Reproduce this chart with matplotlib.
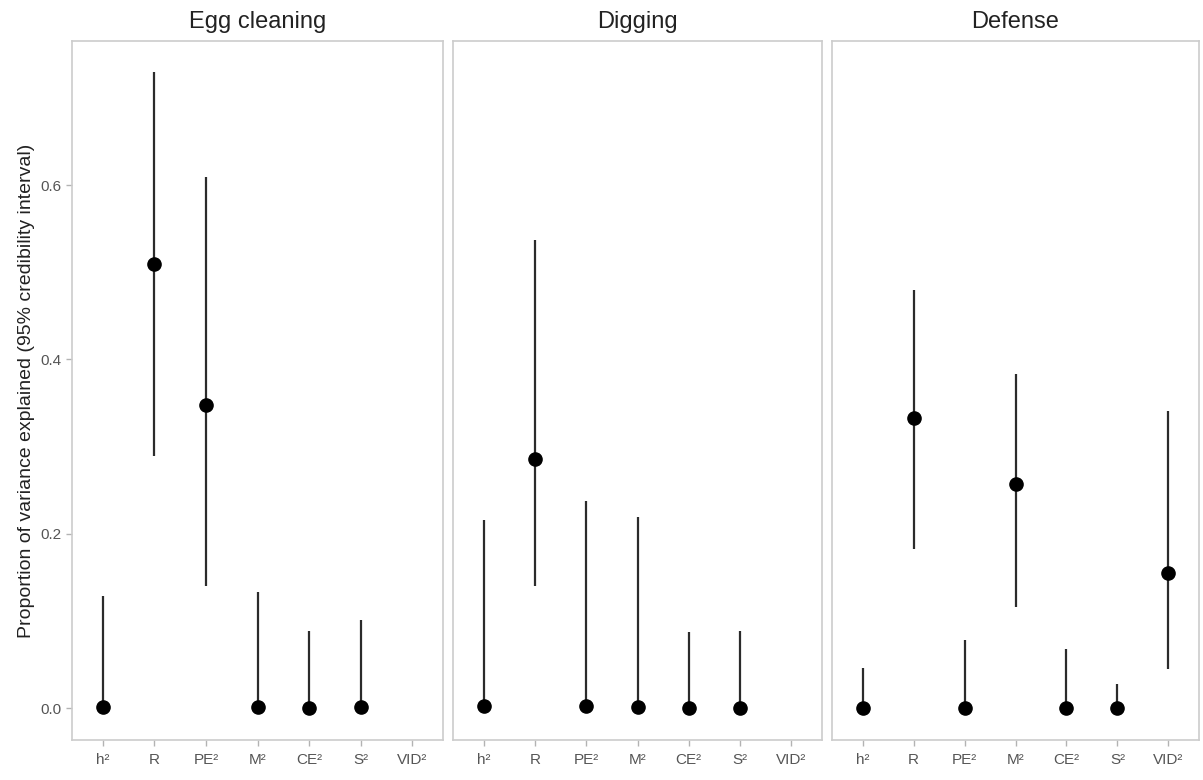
import matplotlib
matplotlib.use("Agg")
import matplotlib.pyplot as plt
import numpy as np

plt.rcParams['font.family'] = ['Liberation Sans', 'DejaVu Sans']

# components on the x axis
components = ['h²', 'R', 'PE²', 'M²', 'CE²', 'S²', 'VID²']
behaviours = ['Egg cleaning', 'Digging', 'Defense']

# posterior mode and 95% credibility interval, per behaviour (nan = not estimated)
egg_mid = [0.001, 0.510, 0.348, 0.001, 0.000, 0.001, np.nan]
egg_lo = [0.000, 0.289, 0.140, 0.000, 0.000, 0.000, np.nan]
egg_hi = [0.128, 0.730, 0.609, 0.133, 0.088, 0.101, np.nan]

dig_mid = [0.002, 0.286, 0.002, 0.001, 0.000, 0.000, np.nan]
dig_lo = [0.000, 0.140, 0.000, 0.000, 0.000, 0.000, np.nan]
dig_hi = [0.216, 0.537, 0.237, 0.219, 0.087, 0.088, np.nan]

def_mid = [0.000, 0.333, 0.000, 0.257, 0.000, 0.000, 0.155]
def_lo = [0.000, 0.182, 0.000, 0.116, 0.000, 0.000, 0.045]
def_hi = [0.046, 0.480, 0.078, 0.383, 0.068, 0.027, 0.341]

series = [(egg_mid, egg_lo, egg_hi), (dig_mid, dig_lo, dig_hi), (def_mid, def_lo, def_hi)]

W, H = 1203, 780
fig = plt.figure(figsize=(W / 100, H / 100), dpi=100)

# panel pixel extents (left, right), top and bottom
panels_x = [(72, 443), (453, 822), (832, 1199)]
top, bottom = 41, 740
zero_y = 708
px_per_unit = 871.5
ylim = (-(bottom - zero_y) / px_per_unit, (zero_y - top) / px_per_unit)

x = np.arange(1, len(components) + 1)
for i, ((l, r), (mid, lo, hi), title) in enumerate(zip(panels_x, series, behaviours)):
    ax = fig.add_axes([l / W, (H - bottom) / H, (r - l) / W, (bottom - top) / H])
    mid, lo, hi = np.array(mid), np.array(lo), np.array(hi)
    ax.vlines(x, lo, hi, color='#2b2b2b', lw=1.6)
    ax.plot(x, mid, 'o', color='black', ms=9.5, ls='none')
    ax.set_xlim(0.4, 7.6)
    ax.set_ylim(*ylim)
    ax.set_xticks(x)
    ax.set_xticklabels(components)
    ax.set_yticks([0.0, 0.2, 0.4, 0.6])
    ax.set_yticklabels(['0.0', '0.2', '0.4', '0.6'])
    for s in ax.spines.values():
        s.set_color('#cccccc')
        s.set_linewidth(1.2)
    ax.tick_params(colors='#b3b3b3', labelcolor='#555555', labelsize=11, length=4, width=1)
    ax.tick_params(axis='x', pad=5)
    if i > 0:
        ax.tick_params(axis='y', left=False, labelleft=False)
    else:
        ax.set_ylabel('Proportion of variance explained (95% credibility interval)',
                      fontsize=14, color='#222222', labelpad=4)
    ax.set_title(title, fontsize=17, color='#222222', pad=9)

fig.savefig('out.png', dpi=100)
